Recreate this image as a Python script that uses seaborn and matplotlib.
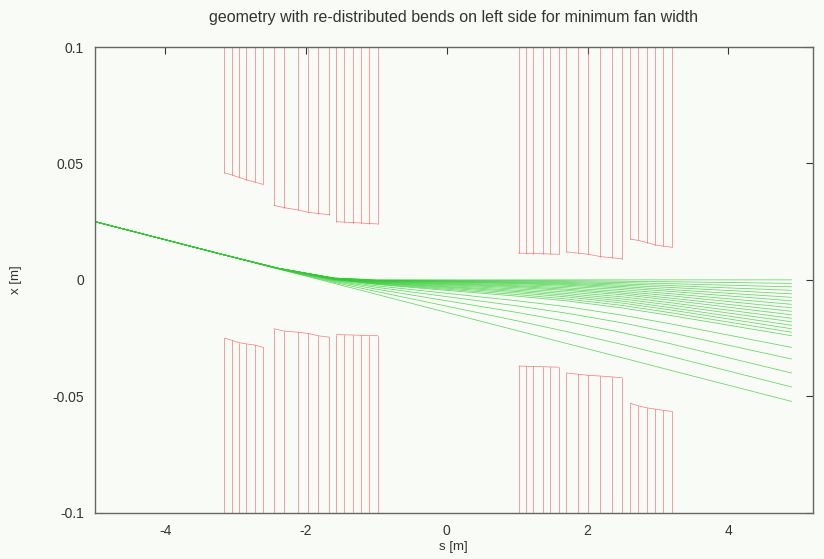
import numpy as np
import pandas as pd
import matplotlib
matplotlib.use("Agg")
import matplotlib.pyplot as plt
import seaborn as sns

# DATA: fan of trajectories (s in m, x in m) read at a few s positions
fan_s = [-5.0, -3.2, -2.4, -1.6, -1.0, 1.0, 1.7, 2.5, 3.2, 4.9]
ray_00 = [0.025, 0.011, 0.0050, 0.00080, 0.0, 0.0, 0.0, 0.0, 0.0, 0.0]
ray_01 = [0.025, 0.011, 0.0050, 0.00077, -0.00008, -0.00028, -0.00038, -0.00058, -0.00083, -0.0015]
ray_02 = [0.025, 0.011, 0.0050, 0.00074, -0.00016, -0.00056, -0.00077, -0.00117, -0.00167, -0.003]
ray_03 = [0.025, 0.011, 0.0050, 0.00071, -0.00024, -0.00084, -0.00115, -0.00175, -0.0025, -0.0045]
ray_04 = [0.025, 0.011, 0.0050, 0.00068, -0.00032, -0.00112, -0.00153, -0.00232, -0.0033, -0.006]
ray_05 = [0.025, 0.011, 0.0050, 0.00065, -0.0004, -0.0014, -0.0019, -0.0029, -0.0042, -0.0075]
ray_06 = [0.025, 0.011, 0.0050, 0.00062, -0.00048, -0.00168, -0.0023, -0.0035, -0.0050, -0.009]
ray_07 = [0.025, 0.011, 0.0050, 0.00058, -0.0006, -0.0021, -0.0028, -0.0042, -0.0060, -0.0105]
ray_08 = [0.025, 0.011, 0.0050, 0.00054, -0.00072, -0.00252, -0.0034, -0.0050, -0.0069, -0.012]
ray_09 = [0.025, 0.011, 0.0050, 0.00050, -0.00084, -0.0029, -0.0040, -0.0057, -0.0079, -0.0135]
ray_10 = [0.025, 0.011, 0.0050, 0.00045, -0.00096, -0.00336, -0.0045, -0.0064, -0.0088, -0.015]
ray_11 = [0.025, 0.011, 0.0050, 0.00039, -0.0011, -0.0039, -0.0052, -0.0073, -0.0099, -0.0165]
ray_12 = [0.025, 0.011, 0.0050, 0.00033, -0.00128, -0.00448, -0.0059, -0.0082, -0.0109, -0.018]
ray_13 = [0.025, 0.011, 0.0050, 0.00027, -0.0014, -0.0050, -0.0066, -0.0091, -0.0120, -0.0195]
ray_14 = [0.025, 0.011, 0.0050, 0.00021, -0.0016, -0.0056, -0.0073, -0.0100, -0.0130, -0.021]
ray_15 = [0.025, 0.011, 0.0049, 0.00014, -0.0018, -0.0063, -0.0082, -0.0110, -0.0142, -0.0225]
ray_16 = [0.025, 0.011, 0.0049, 0.00006, -0.0020, -0.0070, -0.0090, -0.0121, -0.0154, -0.024]
ray_17 = [0.025, 0.011, 0.0049, -0.00014, -0.00256, -0.0090, -0.0115, -0.0152, -0.0190, -0.029]
ray_18 = [0.025, 0.011, 0.0048, -0.00037, -0.0032, -0.0112, -0.0143, -0.0185, -0.0228, -0.034]
ray_19 = [0.025, 0.011, 0.0048, -0.00067, -0.0040, -0.0140, -0.0178, -0.0227, -0.0276, -0.040]
ray_20 = [0.025, 0.011, 0.0047, -0.00106, -0.0050, -0.0176, -0.0222, -0.0278, -0.0330, -0.046]
ray_21 = [0.025, 0.011, 0.0047, -0.0015, -0.0062, -0.0218, -0.0273, -0.0335, -0.0390, -0.0522]
rays = [ray_00, ray_01, ray_02, ray_03, ray_04, ray_05, ray_06, ray_07,
        ray_08, ray_09, ray_10, ray_11, ray_12, ray_13, ray_14, ray_15,
        ray_16, ray_17, ray_18, ray_19, ray_20, ray_21]

# DATA: bend magnets, s of each pole line and the pole edge height
left1_s = [-3.16, -3.05, -2.95, -2.85, -2.73, -2.61]
left2_s = [-2.46, -2.31, -2.11, -1.97, -1.83, -1.67]
left3_s = [-1.57, -1.46, -1.33, -1.22, -1.10, -0.98]
right1_s = [1.02, 1.13, 1.23, 1.36, 1.47, 1.59]
right2_s = [1.70, 1.86, 2.01, 2.18, 2.35, 2.49]
right3_s = [2.61, 2.71, 2.85, 2.96, 3.07, 3.20]

up_left1 = [0.046, 0.045, 0.044, 0.043, 0.042, 0.041]
up_left2 = [0.032, 0.031, 0.030, 0.029, 0.0285, 0.028]
up_left3 = [0.025, 0.0248, 0.0246, 0.0244, 0.0242, 0.024]
lo_left1 = [-0.025, -0.026, -0.027, -0.0275, -0.028, -0.029]
lo_left2 = [-0.021, -0.022, -0.0225, -0.023, -0.024, -0.0246]
lo_left3 = [-0.0235, -0.0236, -0.0237, -0.0238, -0.0239, -0.024]
up_right1 = [0.0115, 0.0114, 0.0113, 0.0112, 0.0111, 0.011]
up_right2 = [0.012, 0.0115, 0.011, 0.010, 0.0095, 0.009]
up_right3 = [0.0175, 0.017, 0.016, 0.015, 0.0145, 0.014]
lo_right1 = [-0.037, -0.0371, -0.0372, -0.0373, -0.0374, -0.0375]
lo_right2 = [-0.040, -0.0405, -0.041, -0.0413, -0.0417, -0.042]
lo_right3 = [-0.053, -0.054, -0.055, -0.0555, -0.056, -0.0565]

x_ticks = [-4, -2, 0, 2, 4]
y_ticks = [-0.1, -0.05, 0, 0.05, 0.1]
y_tick_labels = ["-0.1", "-0.05", "0", "0.05", "0.1"]

# BUILD LONG TABLES
fan_rows = []
for k, ray in enumerate(rays):
    for s, x in zip(fan_s, ray):
        fan_rows.append({"ray": k, "s": s, "x": x})
fan_df = pd.DataFrame(fan_rows)

magnets = [
    (left1_s, up_left1, 0.1), (left2_s, up_left2, 0.1), (left3_s, up_left3, 0.1),
    (left1_s, lo_left1, -0.1), (left2_s, lo_left2, -0.1), (left3_s, lo_left3, -0.1),
    (right1_s, up_right1, 0.1), (right2_s, up_right2, 0.1), (right3_s, up_right3, 0.1),
    (right1_s, lo_right1, -0.1), (right2_s, lo_right2, -0.1), (right3_s, lo_right3, -0.1),
]
mag_rows = []
seg = 0
for s_list, edge, wall in magnets:
    # pole lines
    for s, e in zip(s_list, edge):
        mag_rows.append({"seg": seg, "s": s, "x": e})
        mag_rows.append({"seg": seg, "s": s, "x": wall})
        seg += 1
    # pole edge
    for s, e in zip(s_list, edge):
        mag_rows.append({"seg": seg, "s": s, "x": e})
    seg += 1
mag_df = pd.DataFrame(mag_rows)

# PLOT
sns.set_style("white")
plt.rcParams["font.family"] = ["Liberation Sans", "DejaVu Sans"]
bg = "#f9fbf7"

fig = plt.figure(figsize=(8.24, 5.59), dpi=100, facecolor=bg)
ax = fig.add_axes([0.1153, 0.0828, 0.8710, 0.8331])
ax.set_facecolor(bg)

sns.lineplot(data=mag_df, x="s", y="x", units="seg", estimator=None, sort=False,
             color="#ff4040", linewidth=0.5, alpha=0.7, ax=ax)
sns.lineplot(data=fan_df, x="s", y="x", units="ray", estimator=None, sort=False,
             color="#2ecc2e", linewidth=0.55, alpha=0.75, ax=ax)

ax.set_xlim(-5, 5.2)
ax.set_ylim(-0.1, 0.1)
ax.set_xticks(x_ticks)
ax.set_xticklabels([str(t) for t in x_ticks])
ax.set_yticks(y_ticks)
ax.set_yticklabels(y_tick_labels)
ax.tick_params(direction="in", top=True, right=True, length=5, width=0.8,
               labelsize=10, colors="#333333", pad=8)
for sp in ax.spines.values():
    sp.set_color("#666666")
    sp.set_linewidth(1.0)

ax.set_title("geometry with re-distributed bends on left side for minimum fan width",
             fontsize=11.5, color="#333333", pad=18)
ax.set_xlabel("s [m]", fontsize=9.5, color="#333333", labelpad=2)
ax.set_ylabel("x [m]", fontsize=9.5, color="#333333", labelpad=22)

fig.savefig("out.png", dpi=100, facecolor=fig.get_facecolor())
